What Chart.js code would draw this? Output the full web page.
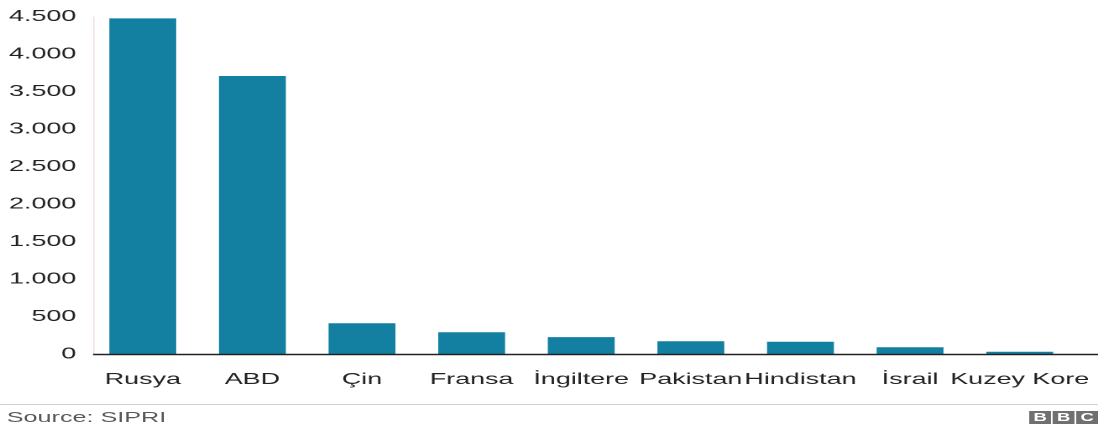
<!DOCTYPE html>
<html>
<head>
<meta charset="utf-8">
<script src="https://cdn.jsdelivr.net/npm/chart.js@4"></script>
<style>
  body { margin: 0; background: #fff; font-family: "Liberation Sans", Arial, sans-serif; overflow: hidden; }
  /* the reference graphic is stretched sideways; lay out narrow and stretch */
  #page { width: 654px; transform: scaleX(1.6789); transform-origin: 0 0; }
  #wrap { position: relative; width: 654px; height: 400px; }
  #footer { position: relative; width: 654px; height: 28px; border-top: 1px solid #cfcfcf; margin-top: 4px; }
  #source { position: absolute; left: 4px; top: 3px; font-size: 15px; color: #5a5a5a; }
  #logo { position: absolute; right: 0; top: 6px; display: flex; gap: 1px; }
  #logo span { display: block; width: 13px; height: 13px; background: #707070; color: #fff;
               font-size: 11px; font-weight: bold; line-height: 13px; text-align: center; }
</style>
</head>
<body>
<div id="page">
  <div id="wrap"><canvas id="chart"></canvas></div>
  <div id="footer">
    <div id="source">Source: SIPRI</div>
    <div id="logo"><span>B</span><span>B</span><span>C</span></div>
  </div>
</div>
<script>
var countries = ['Rusya', 'ABD', 'Çin', 'Fransa', 'İngiltere', 'Pakistan', 'Hindistan', 'İsrail', 'Kuzey Kore'];
var warheads = [4477, 3708, 410, 290, 225, 170, 164, 90, 30];
var yTicks = [0, 500, 1000, 1500, 2000, 2500, 3000, 3500, 4000, 4500];

function trNumber(v) {
    return String(v).replace(/\B(?=(\d{3})+(?!\d))/g, '.');
}

var fontFamily = '"Liberation Sans", Arial, sans-serif';
var ctx = document.getElementById('chart');
var chart = new Chart(ctx, {
    type: 'bar',
    data: {
        labels: countries,
        datasets: [{
            data: warheads,
            backgroundColor: '#1380a1',
            barPercentage: 0.61,
            categoryPercentage: 1
        }]
    },
    options: {
        responsive: true,
        maintainAspectRatio: false,
        animation: false,
        devicePixelRatio: 2,
        layout: { padding: { top: 12, right: 14, left: 0, bottom: 0 } },
        plugins: { legend: { display: false }, tooltip: { enabled: false } },
        scales: {
            x: {
                grid: { display: false, drawTicks: false },
                border: { display: false },
                ticks: {
                    color: '#222',
                    padding: 16,
                    maxRotation: 0,
                    autoSkip: false,
                    font: { family: fontFamily, size: 16 }
                },
                afterFit: function (scale) {
                    scale.height = 46;
                    scale.paddingLeft = 0;
                    scale.paddingRight = 0;
                }
            },
            y: {
                min: 0,
                max: 4500,
                afterBuildTicks: function (scale) {
                    scale.ticks = yTicks.map(function (v) { return { value: v }; });
                },
                grid: { display: false, drawTicks: false },
                border: { display: false },
                ticks: {
                    color: '#222',
                    padding: 7,
                    font: { family: fontFamily, size: 16 },
                    callback: function (v) { return trNumber(v); }
                },
                afterFit: function (scale) { scale.width = 52.4; }
            }
        }
    },
    plugins: [{
        id: 'axisLines',
        afterDatasetsDraw: function (chart) {
            var c = chart.ctx, a = chart.chartArea;
            c.save();
            c.strokeStyle = '#ece2e2';
            c.lineWidth = 0.8;
            c.beginPath();
            c.moveTo(a.left + 3.5, a.top);
            c.lineTo(a.left + 3.5, a.bottom);
            c.stroke();
            c.strokeStyle = '#222';
            c.lineWidth = 1.6;
            c.beginPath();
            c.moveTo(a.left + 3, a.bottom + 0.5);
            c.lineTo(chart.width, a.bottom + 0.5);
            c.stroke();
            c.restore();
        }
    }]
});
</script>
</body>
</html>
